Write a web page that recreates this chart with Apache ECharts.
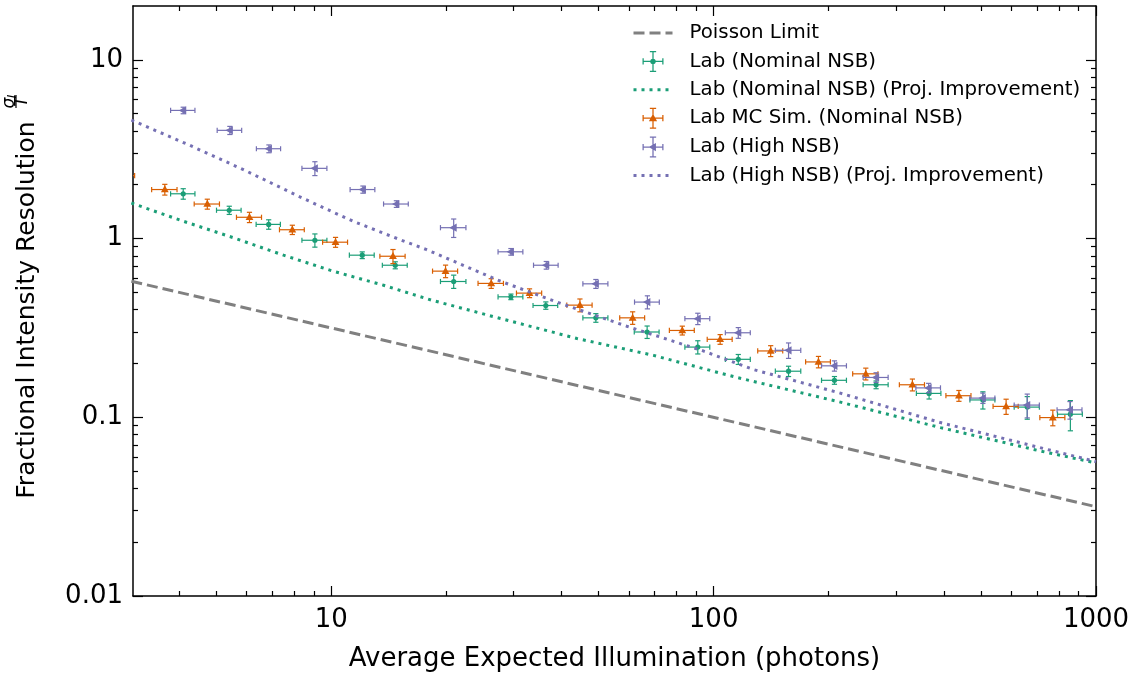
<!DOCTYPE html>
<html>
<head>
<meta charset="utf-8">
<script src="https://cdn.jsdelivr.net/npm/echarts@6/dist/echarts.min.js"></script>
<style>
html, body { margin: 0; padding: 0; background: #fff; }
#chart { width: 1137px; height: 677px; }
</style>
</head>
<body>
<div id="chart"></div>
<script>
// axis ticks
const xMajor = [10, 100, 1000]
const xMinor = [4, 5, 6, 7, 8, 9, 20, 30, 40, 50, 60, 70, 80, 90, 200, 300, 400, 500, 600, 700, 800, 900]
const yMajor = [0.01, 0.1, 1, 10]
const yMinor = [0.02, 0.03, 0.04, 0.05, 0.06, 0.07, 0.08, 0.09, 0.2, 0.3, 0.4, 0.5, 0.6, 0.7, 0.8, 0.9, 2, 3, 4, 5, 6, 7, 8, 9]

// Poisson limit
const poissonX = [3, 1000]
const poissonY = [0.577, 0.0316]

// Lab (Nominal NSB)
const nomX = [4.1, 5.41, 6.86, 9.06, 12.05, 14.7, 20.9, 29.5, 36.4, 49.2, 67, 90.9, 116, 157, 207, 266, 366, 506, 661, 857]
const nomY = [1.78, 1.44, 1.2, 0.978, 0.807, 0.709, 0.575, 0.472, 0.422, 0.36, 0.3, 0.247, 0.211, 0.181, 0.161, 0.152, 0.136, 0.125, 0.114, 0.104]
const nomXErr = [0.3, 0.4, 0.5, 0.68, 0.9, 1.1, 1.6, 2.2, 2.7, 3.7, 5, 6.8, 8.7, 12, 15.5, 20, 27, 38, 50, 64]
const nomYErr = [0.12, 0.076, 0.073, 0.083, 0.035, 0.032, 0.049, 0.017, 0.02, 0.02, 0.024, 0.021, 0.0135, 0.012, 0.008, 0.0076, 0.0095, 0.0138, 0.0165, 0.02]

// Lab (Nominal NSB) (Proj. Improvement)
const nomProjX = [3, 4.1, 5.55, 7.5, 10.1, 13.7, 18.3, 27.7, 43.9, 69.6, 115, 213, 392, 712, 1000]
const nomProjY = [1.58, 1.25, 1.01, 0.807, 0.657, 0.548, 0.452, 0.357, 0.276, 0.222, 0.167, 0.122, 0.0875, 0.0649, 0.0555]

// Lab MC Sim. (Nominal NSB)
const mcX = [2.85, 3.67, 4.74, 6.11, 7.91, 10.26, 14.5, 19.9, 26.2, 33, 44.7, 61.4, 82.8, 104, 141, 188, 250, 331, 438, 582, 771]
const mcY = [2.25, 1.88, 1.56, 1.315, 1.12, 0.954, 0.796, 0.657, 0.561, 0.495, 0.424, 0.36, 0.306, 0.273, 0.235, 0.204, 0.175, 0.152, 0.132, 0.115, 0.0996]
const mcXErr = [0.21, 0.28, 0.36, 0.46, 0.59, 0.77, 1.1, 1.5, 2, 2.5, 3.4, 4.6, 6.2, 7.8, 10.6, 14, 19, 25, 33, 44, 58]
const mcYErr = [0.15, 0.13, 0.1, 0.087, 0.067, 0.061, 0.072, 0.053, 0.035, 0.028, 0.035, 0.029, 0.0174, 0.017, 0.0165, 0.015, 0.0133, 0.0116, 0.0092, 0.0112, 0.01]

// Lab (High NSB)
const highX = [4.1, 5.43, 6.87, 9.06, 12.1, 14.8, 20.9, 29.5, 36.5, 49.2, 67.1, 90.9, 116, 157, 207, 266, 365, 506, 661, 855]
const highY = [5.21, 4.03, 3.18, 2.47, 1.88, 1.56, 1.15, 0.843, 0.709, 0.558, 0.441, 0.356, 0.297, 0.237, 0.194, 0.167, 0.146, 0.128, 0.117, 0.11]
const highXErr = [0.3, 0.4, 0.5, 0.68, 0.9, 1.1, 1.6, 2.2, 2.7, 3.7, 5, 6.8, 8.7, 12, 15.5, 20, 27, 38, 50, 64]
const highYErr = [0.22, 0.21, 0.16, 0.22, 0.087, 0.067, 0.136, 0.036, 0.035, 0.032, 0.037, 0.026, 0.0205, 0.0235, 0.0128, 0.0104, 0.0088, 0.0085, 0.0178, 0.0124]

// Lab (High NSB) (Proj. Improvement)
const highProjX = [3, 4.19, 5.89, 8.28, 11.4, 15.1, 17.7, 27.7, 40.5, 59.3, 93.9, 127, 213, 392, 712, 1000]
const highProjY = [4.6, 3.38, 2.43, 1.71, 1.25, 0.987, 0.869, 0.577, 0.428, 0.323, 0.235, 0.185, 0.137, 0.0934, 0.0677, 0.0565]

const C_NOM = '#1b9e77'
const C_MC = '#d95f02'
const C_HIGH = '#7570b3'
const C_POIS = '#808080'
const FONT = '"DejaVu Sans", sans-serif'

const DASHED = [11, 5]
const DOTTED = [3, 5]

const pairs = (xs, ys) => xs.map((x, i) => [x, ys[i]])
const quads = (xs, ys, xe, ye) => xs.map((x, i) => [x, ys[i], xe[i], ye[i]])

// marker shapes around the data point (pixel sizes only)
const markers = {
  circle: (cx, cy, color) => ({ type: 'circle', shape: { cx, cy, r: 2.6 }, style: { fill: color } }),
  triUp: (cx, cy, color) => ({ type: 'polygon', shape: { points: [[cx, cy - 4.2], [cx + 3.9, cy + 2.8], [cx - 3.9, cy + 2.8]] }, style: { fill: color } }),
  triLeft: (cx, cy, color) => ({ type: 'polygon', shape: { points: [[cx - 4.4, cy], [cx + 3, cy - 4.1], [cx + 3, cy + 4.1]] }, style: { fill: color } })
}

function errorBars(marker) {
  return function (params, api) {
    const x = api.value(0), y = api.value(1), xe = api.value(2), ye = api.value(3)
    const c = api.coord([x, y])
    const l = api.coord([x - xe, y])
    const r = api.coord([x + xe, y])
    const t = api.coord([x, y + ye])
    const b = api.coord([x, y - ye])
    const color = api.visual('color')
    const cap = 2.6
    const ls = { stroke: color, lineWidth: 1.2 }
    return {
      type: 'group',
      children: [
        { type: 'line', shape: { x1: l[0], y1: c[1], x2: r[0], y2: c[1] }, style: ls },
        { type: 'line', shape: { x1: c[0], y1: t[1], x2: c[0], y2: b[1] }, style: ls },
        { type: 'line', shape: { x1: l[0], y1: c[1] - cap, x2: l[0], y2: c[1] + cap }, style: ls },
        { type: 'line', shape: { x1: r[0], y1: c[1] - cap, x2: r[0], y2: c[1] + cap }, style: ls },
        { type: 'line', shape: { x1: c[0] - cap, y1: t[1], x2: c[0] + cap, y2: t[1] }, style: ls },
        { type: 'line', shape: { x1: c[0] - cap, y1: b[1], x2: c[0] + cap, y2: b[1] }, style: ls },
        markers[marker](c[0], c[1], color)
      ]
    }
  }
}

// legend icons: error bar cross with caps + marker
const barPath = 'M0,9.4h20v1.2h-20z M9.4,0h1.2v20h-1.2z M0,7h1.2v6h-1.2z M18.8,7h1.2v6h-1.2z M7,0h6v1.2h-6z M7,18.8h6v1.2h-6z '
const iconNom = 'path://' + barPath + 'M7.4,10a2.6,2.6 0 1,1 5.2,0a2.6,2.6 0 1,1 -5.2,0z'
const iconMc = 'path://' + barPath + 'M10,5.8L13.9,12.8L6.1,12.8z'
const iconHigh = 'path://' + barPath + 'M5.8,10L12.8,6.1L12.8,13.9z'
// line entries: no symbol on the legend line
const noSymbol = { opacity: 0 }

function xAx(gridIndex, position, ticks, len, labels) {
  return {
    type: 'log', gridIndex, position, min: 3.03, max: 1000,
    splitLine: { show: false },
    axisLine: { show: gridIndex === 0, lineStyle: { color: '#000', width: 1.5 } },
    axisTick: { show: true, inside: true, length: len, customValues: ticks, lineStyle: { color: '#000', width: 1.2 } },
    axisLabel: labels
      ? { show: true, customValues: xMajor, formatter: v => String(v), fontSize: 26, fontFamily: FONT, color: '#000', margin: 11 }
      : { show: false }
  }
}

function yAx(gridIndex, position, ticks, len, labels) {
  return {
    type: 'log', gridIndex, position, min: 0.01, max: 20,
    splitLine: { show: false },
    axisLine: { show: gridIndex === 0, lineStyle: { color: '#000', width: 1.5 } },
    axisTick: { show: true, inside: true, length: len, customValues: ticks, lineStyle: { color: '#000', width: 1.2 } },
    axisLabel: labels
      ? { show: true, customValues: yMajor, formatter: v => String(v), fontSize: 26, fontFamily: FONT, color: '#000', margin: 10 }
      : { show: false }
  }
}

const gridBox = { left: 133, right: 41, top: 6, bottom: 81 }

const xAxes = [
  xAx(0, 'bottom', xMajor, 10, true),
  xAx(0, 'top', xMajor, 10, false),
  xAx(1, 'bottom', xMinor, 5, false),
  xAx(1, 'top', xMinor, 5, false)
]
Object.assign(xAxes[0], {
  name: 'Average Expected Illumination (photons)',
  nameLocation: 'middle',
  nameGap: 50,
  nameTextStyle: { fontSize: 26, fontFamily: FONT, color: '#000' }
})

const chart = echarts.init(document.getElementById('chart'))
chart.setOption({
  animation: false,
  backgroundColor: '#fff',
  grid: [Object.assign({}, gridBox), Object.assign({}, gridBox)],
  xAxis: xAxes,
  yAxis: [
    yAx(0, 'left', yMajor, 10, true),
    yAx(0, 'right', yMajor, 10, false),
    yAx(1, 'left', yMinor, 5, false),
    yAx(1, 'right', yMinor, 5, false)
  ],
  legend: {
    orient: 'vertical',
    left: 632,
    top: 23,
    padding: 0,
    itemWidth: 39,
    itemHeight: 21,
    itemGap: 7.9,
    selectedMode: false,
    textStyle: { fontSize: 19.8, fontFamily: FONT, color: '#000', padding: [0, 0, 0, 12] },
    data: [
      { name: 'Poisson Limit', itemStyle: noSymbol, lineStyle: { width: 3, type: DASHED, color: C_POIS } },
      { name: 'Lab (Nominal NSB)', icon: iconNom },
      { name: 'Lab (Nominal NSB) (Proj. Improvement)', itemStyle: noSymbol, lineStyle: { width: 3, type: DOTTED, color: C_NOM } },
      { name: 'Lab MC Sim. (Nominal NSB)', icon: iconMc },
      { name: 'Lab (High NSB)', icon: iconHigh },
      { name: 'Lab (High NSB) (Proj. Improvement)', itemStyle: noSymbol, lineStyle: { width: 3, type: DOTTED, color: C_HIGH } }
    ]
  },
  graphic: [
    {
      type: 'text', x: 27, y: 310, rotation: Math.PI / 2,
      style: { text: 'Fractional Intensity Resolution', font: '25px ' + FONT, fill: '#000', align: 'center', verticalAlign: 'middle' }
    },
    {
      type: 'text', x: 10, y: 103, rotation: Math.PI / 2,
      style: { text: 'σ', font: 'italic 17px ' + FONT, fill: '#000', align: 'center', verticalAlign: 'middle' }
    },
    {
      type: 'text', x: 13, y: 96.5, rotation: Math.PI / 2,
      style: { text: 'I', font: 'italic 12px ' + FONT, fill: '#000', align: 'center', verticalAlign: 'middle' }
    },
    {
      type: 'line', shape: { x1: 16, y1: 95, x2: 16, y2: 108 },
      style: { stroke: '#000', lineWidth: 1.2 }
    },
    {
      type: 'text', x: 22.5, y: 101.5, rotation: Math.PI / 2,
      style: { text: 'T', font: 'italic 17px ' + FONT, fill: '#000', align: 'center', verticalAlign: 'middle' }
    }
  ],
  series: [
    {
      name: 'Poisson Limit', type: 'line', xAxisIndex: 0, yAxisIndex: 0,
      data: pairs(poissonX, poissonY), symbol: 'none', clip: true,
      itemStyle: { color: C_POIS },
      lineStyle: { color: C_POIS, width: 3, type: DASHED, cap: 'butt' }
    },
    {
      name: 'Lab (Nominal NSB)', type: 'custom', xAxisIndex: 0, yAxisIndex: 0,
      data: quads(nomX, nomY, nomXErr, nomYErr), encode: { x: 0, y: 1 }, clip: true,
      itemStyle: { color: C_NOM }, renderItem: errorBars('circle')
    },
    {
      name: 'Lab (Nominal NSB) (Proj. Improvement)', type: 'line', xAxisIndex: 0, yAxisIndex: 0,
      data: pairs(nomProjX, nomProjY), symbol: 'none', clip: true,
      itemStyle: { color: C_NOM },
      lineStyle: { color: C_NOM, width: 3, type: DOTTED, cap: 'butt' }
    },
    {
      name: 'Lab MC Sim. (Nominal NSB)', type: 'custom', xAxisIndex: 0, yAxisIndex: 0,
      data: quads(mcX, mcY, mcXErr, mcYErr), encode: { x: 0, y: 1 }, clip: true,
      itemStyle: { color: C_MC }, renderItem: errorBars('triUp')
    },
    {
      name: 'Lab (High NSB)', type: 'custom', xAxisIndex: 0, yAxisIndex: 0,
      data: quads(highX, highY, highXErr, highYErr), encode: { x: 0, y: 1 }, clip: true,
      itemStyle: { color: C_HIGH }, renderItem: errorBars('triLeft')
    },
    {
      name: 'Lab (High NSB) (Proj. Improvement)', type: 'line', xAxisIndex: 0, yAxisIndex: 0,
      data: pairs(highProjX, highProjY), symbol: 'none', clip: true,
      itemStyle: { color: C_HIGH },
      lineStyle: { color: C_HIGH, width: 3, type: DOTTED, cap: 'butt' }
    }
  ]
})
</script>
</body>
</html>
